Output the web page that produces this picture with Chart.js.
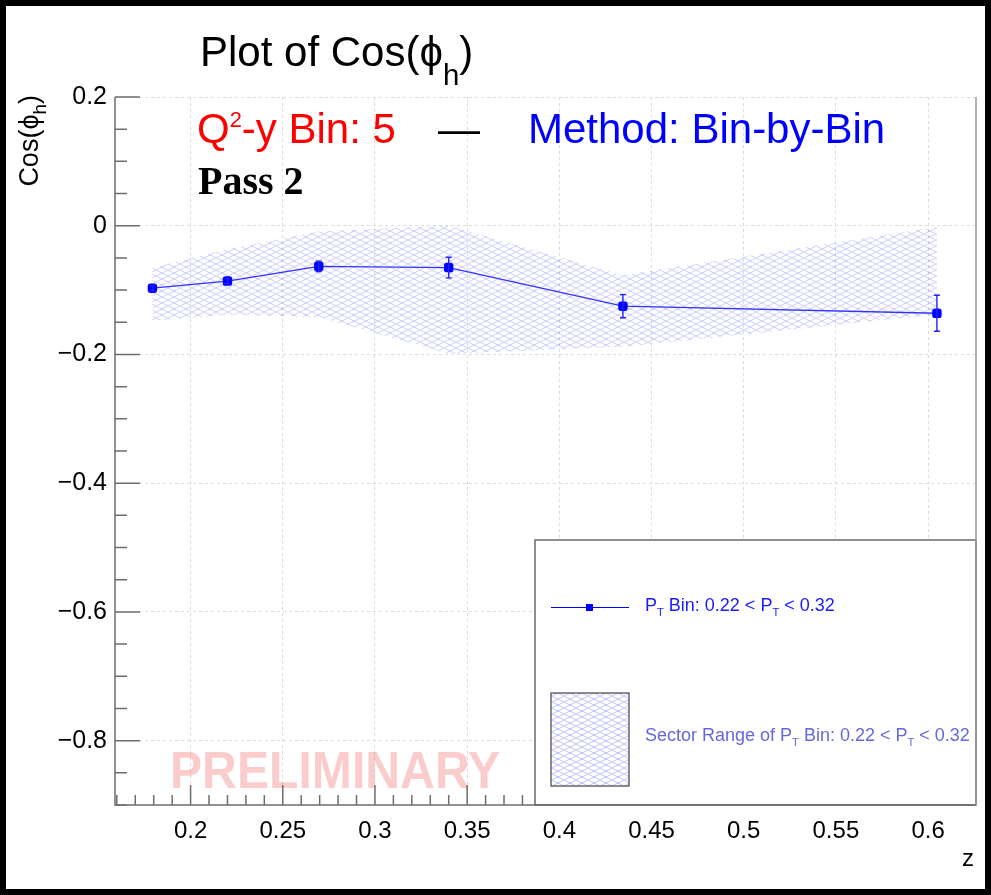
<!DOCTYPE html>
<html>
<head>
<meta charset="utf-8">
<title>Plot of Cos(ϕh)</title>
<script src="https://cdn.jsdelivr.net/npm/chart.js@4.4.1/dist/chart.umd.min.js"></script>
<style>
  html, body { margin: 0; padding: 0; background: #fff; }
  #wrap { width: 991px; height: 895px; }
</style>
</head>
<body>
<div id="wrap"><canvas id="plot" width="991" height="895"></canvas></div>
<script>
// z bin centres and the fitted Cos(phi_h) moment per bin
const zBins = [0.1793, 0.2200, 0.2695, 0.3400, 0.4345, 0.6048];
const cosVals = [-0.097, -0.086, -0.063, -0.065, -0.125, -0.136];
const cosErr = [0.004, 0.004, 0.008, 0.016, 0.018, 0.028];

// spread over the detector sectors (hatched band)
const sectorHigh = [-0.065, -0.037, -0.009, 0.000, -0.077, -0.002];
const sectorLow = [-0.148, -0.138, -0.142, -0.199, -0.188, -0.138];

// axis ticks
const xTicks = [0.2, 0.25, 0.3, 0.35, 0.4, 0.45, 0.5, 0.55, 0.6];
const yTicks = [0.2, 0, -0.2, -0.4, -0.6, -0.8];

const blue = "#0000ff";
const axisGray = "#6e6e6e";
const FONT = '"Liberation Sans", Arial, sans-serif';

function hatch(color) {
    const c = document.createElement("canvas");
    c.width = 12;
    c.height = 6;
    const g = c.getContext("2d");
    g.strokeStyle = color;
    g.lineWidth = 0.8;
    g.beginPath();
    g.moveTo(-2, -1); g.lineTo(14, 7);
    g.moveTo(-2, 7); g.lineTo(14, -1);
    g.stroke();
    return g.createPattern(c, "repeat");
}

const fmt = v => (v < 0 ? "\u2212" : "") + String(Math.abs(Math.round(v * 100) / 100));
const pts = vals => zBins.map((z, i) => ({ x: z, y: vals[i] }));

// draws a run of text pieces, some raised or lowered and smaller
function textRun(ctx, x, y, parts, size, family, weight) {
    parts.forEach(p => {
        const s = p.s ? size * p.s : size;
        ctx.font = (weight || "") + " " + s + "px " + (family || FONT);
        ctx.fillText(p.t, x, y + (p.dy || 0));
        x += ctx.measureText(p.t).width;
    });
    return x;
}
function runWidth(ctx, parts, size, family) {
    let w = 0;
    parts.forEach(p => {
        ctx.font = (p.s ? size * p.s : size) + "px " + (family || FONT);
        w += ctx.measureText(p.t).width;
    });
    return w;
}

const rootFrame = {
    id: "rootFrame",
    beforeDraw(chart) {
        const ctx = chart.ctx;
        ctx.save();
        ctx.fillStyle = "#fff";
        ctx.fillRect(0, 0, chart.width, chart.height);
        ctx.restore();
    },
    afterDatasetsDraw(chart) {
        const { ctx, chartArea: a, scales: { x, y } } = chart;
        ctx.save();

        // error bars
        ctx.strokeStyle = "#2020ff";
        ctx.lineWidth = 1.4;
        zBins.forEach((z, i) => {
            const px = x.getPixelForValue(z);
            const y1 = y.getPixelForValue(cosVals[i] + cosErr[i]);
            const y2 = y.getPixelForValue(cosVals[i] - cosErr[i]);
            ctx.beginPath();
            ctx.moveTo(px, y1); ctx.lineTo(px, y2);
            ctx.moveTo(px - 3, y1); ctx.lineTo(px + 3, y1);
            ctx.moveTo(px - 3, y2); ctx.lineTo(px + 3, y2);
            ctx.stroke();
        });

        // inward ticks
        ctx.strokeStyle = axisGray;
        ctx.lineWidth = 1.5;
        ctx.beginPath();
        for (let k = -18; k <= 4; k++) {
            const py = y.getPixelForValue(k * 0.05);
            const len = k % 4 === 0 ? 25 : 12;
            ctx.moveTo(a.left, py); ctx.lineTo(a.left + len, py);
        }
        for (let k = 16; k <= 62; k++) {
            const px = x.getPixelForValue(k / 100);
            const len = k % 5 === 0 ? 20 : 10;
            ctx.moveTo(px, a.bottom); ctx.lineTo(px, a.bottom - len);
        }
        ctx.stroke();

        // legend box
        const lx = 535, ly = 540, lw = a.right - lx, lh = a.bottom - ly;
        ctx.fillStyle = "#fff";
        ctx.fillRect(lx, ly, lw, lh);
        ctx.strokeStyle = "#6a6a6a";
        ctx.lineWidth = 1.5;
        ctx.strokeRect(lx, ly, lw, lh);

        ctx.strokeStyle = blue;
        ctx.lineWidth = 1.2;
        ctx.beginPath();
        ctx.moveTo(551, 607.5); ctx.lineTo(629, 607.5);
        ctx.stroke();
        ctx.fillStyle = blue;
        ctx.fillRect(586, 604, 7, 7);

        ctx.fillStyle = hatch("rgba(70,70,255,0.4)");
        ctx.fillRect(551, 693, 78, 93);
        ctx.strokeStyle = "#444";
        ctx.lineWidth = 1.2;
        ctx.strokeRect(551, 693, 78, 93);

        ctx.textBaseline = "alphabetic";
        ctx.fillStyle = "#1a1aff";
        textRun(ctx, 645, 611, [
            { t: "P" }, { t: "T", s: 0.62, dy: 5 }, { t: " Bin: 0.22 < P" },
            { t: "T", s: 0.62, dy: 5 }, { t: " < 0.32" }
        ], 18);
        ctx.fillStyle = "#6767dd";
        textRun(ctx, 645, 741, [
            { t: "Sector Range of P" }, { t: "T", s: 0.62, dy: 5 }, { t: " Bin: 0.22 < P" },
            { t: "T", s: 0.62, dy: 5 }, { t: " < 0.32" }
        ], 18);

        // axis lines and frame
        ctx.strokeStyle = axisGray;
        ctx.lineWidth = 1.5;
        ctx.beginPath();
        ctx.moveTo(a.left, a.top); ctx.lineTo(a.left, a.bottom); ctx.lineTo(a.right, a.bottom);
        ctx.stroke();
        ctx.strokeStyle = "#999";
        ctx.beginPath();
        ctx.moveTo(a.right, a.top); ctx.lineTo(a.right, a.bottom);
        ctx.stroke();

        // watermark
        ctx.save();
        ctx.fillStyle = "rgba(240,40,40,0.24)";
        ctx.font = "bold 52px " + FONT;
        const ww = ctx.measureText("PRELIMINARY").width;
        ctx.translate(170, 788);
        ctx.scale(330 / ww, 1);
        ctx.fillText("PRELIMINARY", 0, 0);
        ctx.restore();

        // title
        ctx.fillStyle = "#000";
        textRun(ctx, 200, 66, [{ t: "Plot of Cos(\u03D5" }, { t: "h", s: 0.7, dy: 19 }, { t: ")" }], 42);

        // bin and method labels
        ctx.fillStyle = "#ff0000";
        textRun(ctx, 197, 143, [{ t: "Q" }, { t: "2", s: 0.52, dy: -16 }, { t: "-y Bin: 5" }], 42);
        ctx.fillStyle = "#000";
        textRun(ctx, 438, 143, [{ t: "\u2014" }], 42);
        ctx.fillStyle = "#0000ff";
        textRun(ctx, 528, 143, [{ t: "Method: Bin-by-Bin" }], 42);
        ctx.fillStyle = "#000";
        textRun(ctx, 198, 194, [{ t: "Pass 2" }], 40, '"Liberation Serif", serif', "bold");

        // axis titles
        const yParts = [{ t: "Cos(\u03D5" }, { t: "h", s: 0.7, dy: 8 }, { t: ")" }];
        ctx.save();
        ctx.translate(38, a.top - 2);
        ctx.rotate(-Math.PI / 2);
        textRun(ctx, -runWidth(ctx, yParts, 27), 0, yParts, 27);
        ctx.restore();
        ctx.font = "24px " + FONT;
        ctx.textAlign = "right";
        ctx.fillText("z", a.right - 2, 866);

        // outer black frame
        ctx.strokeStyle = "#000";
        ctx.lineWidth = 6;
        ctx.strokeRect(3, 3, chart.width - 6, chart.height - 6);
        ctx.restore();
    }
};

const chart = new Chart(document.getElementById("plot"), {
    type: "line",
    data: {
        datasets: [
            {
                label: "P_T Bin: 0.22 < P_T < 0.32",
                data: pts(cosVals),
                borderColor: "#3333ff",
                borderWidth: 1.3,
                backgroundColor: blue,
                pointStyle: "rectRounded",
                pointRadius: 5.5,
                pointBorderWidth: 0,
                fill: false,
                tension: 0
            },
            {
                label: "Sector Range of P_T Bin: 0.22 < P_T < 0.32",
                data: pts(sectorHigh),
                borderColor: "rgba(0,0,0,0)",
                borderWidth: 0,
                pointRadius: 0,
                backgroundColor: hatch("rgba(70,70,255,0.32)"),
                fill: "+1",
                tension: 0
            },
            {
                label: "sector low",
                data: pts(sectorLow),
                borderColor: "rgba(0,0,0,0)",
                borderWidth: 0,
                pointRadius: 0,
                fill: false,
                tension: 0
            }
        ]
    },
    options: {
        responsive: false,
        animation: false,
        layout: { padding: { left: 0, top: 97, right: 15, bottom: 0 } },
        plugins: { legend: { display: false }, tooltip: { enabled: false } },
        scales: {
            x: {
                type: "linear",
                min: 0.159,
                max: 0.626,
                afterBuildTicks: s => { s.ticks = xTicks.map(v => ({ value: v })); },
                afterFit: s => { s.height = 90; },
                ticks: {
                    callback: v => fmt(v),
                    font: { family: FONT, size: 24 },
                    color: "#000",
                    padding: 12,
                    maxRotation: 0,
                    autoSkip: false
                },
                grid: { color: "#dcdcdc", lineWidth: 1, drawTicks: false },
                border: { display: false, dash: [3, 3] }
            },
            y: {
                min: -0.9,
                max: 0.2,
                afterBuildTicks: s => { s.ticks = yTicks.map(v => ({ value: v })); },
                afterFit: s => { s.width = 115; },
                ticks: {
                    callback: v => fmt(v),
                    font: { family: FONT, size: 25 },
                    color: "#000",
                    padding: 8,
                    autoSkip: false
                },
                grid: { color: "#dcdcdc", lineWidth: 1, drawTicks: false },
                border: { display: false, dash: [3, 3] }
            }
        }
    },
    plugins: [rootFrame]
});
</script>
</body>
</html>
